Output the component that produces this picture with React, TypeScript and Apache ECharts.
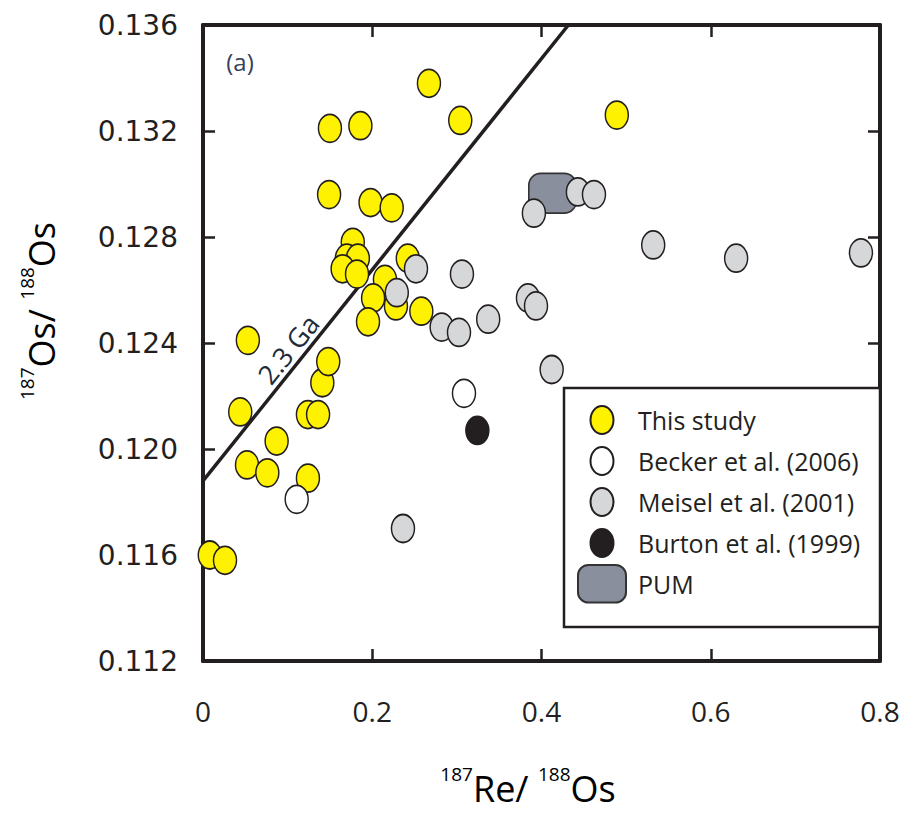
import React, { useEffect, useRef } from 'react';
import * as echarts from 'echarts';

// ---- data ----
const xTickLabels = ['0', '0.2', '0.4', '0.6', '0.8'];
const yTickLabels = ['0.112', '0.116', '0.120', '0.124', '0.128', '0.132', '0.136'];

const seriesNames = ['This study', 'Becker et al. (2006)', 'Meisel et al. (2001)', 'Burton et al. (1999)', 'PUM'];

const thisStudyX = [0.008, 0.026, 0.044, 0.053, 0.052, 0.076, 0.087, 0.124, 0.124, 0.136, 0.141, 0.148, 0.150, 0.149, 0.186, 0.267, 0.304, 0.489, 0.198, 0.223, 0.177, 0.170, 0.183, 0.165, 0.182, 0.242, 0.215, 0.201, 0.228, 0.195, 0.258];
const thisStudyY = [0.1160, 0.1158, 0.1214, 0.1241, 0.1194, 0.1191, 0.1203, 0.1189, 0.1213, 0.1213, 0.1225, 0.1233, 0.1321, 0.1296, 0.1322, 0.1338, 0.1324, 0.1326, 0.1293, 0.1291, 0.1278, 0.1272, 0.1272, 0.1268, 0.1266, 0.1272, 0.1264, 0.1257, 0.1254, 0.1248, 0.1252];

const beckerX = [0.3084, 0.1107];
const beckerY = [0.1221, 0.1181];

const meiselX = [0.2517, 0.229, 0.306, 0.282, 0.3025, 0.337, 0.384, 0.3935, 0.391, 0.443, 0.462, 0.412, 0.532, 0.630, 0.7775, 0.2363];
const meiselY = [0.1268, 0.1259, 0.1266, 0.1246, 0.1244, 0.1249, 0.1257, 0.1254, 0.1289, 0.1297, 0.1296, 0.1230, 0.1277, 0.1272, 0.1274, 0.1170];

const burtonX = [0.3242];
const burtonY = [0.1207];

// PUM box: [xMin, xMax, yMin, yMax]
const pumBox = [0.385, 0.441, 0.1289, 0.1304];

// 2.3 Ga reference isochron
const isochronX = [0, 0.4318];
const isochronY = [0.1188, 0.136];
const isochronLabel = '2.3 Ga';

// ---- styles ----
const INK = '#231f20';
const ELLIPSE = 'path://M0,14A11.5,14,0,1,1,23,14A11.5,14,0,1,1,0,14Z';
const LEG_ELLIPSE = 'path://M0,0M48,38M12.5,19A11.5,14,0,1,1,35.5,19A11.5,14,0,1,1,12.5,19Z';
const LEG_RRECT = 'path://M11,1H37A10,10,0,0,1,47,11V27A10,10,0,0,1,37,37H11A10,10,0,0,1,1,27V11A10,10,0,0,1,11,1Z';
const FONT = '"Open Sans", "Noto Sans", sans-serif';

const zip = (xs: number[], ys: number[]) => xs.map((x, i) => [x, ys[i]]);

const scatter = (name: string, xs: number[], ys: number[], color: string) => ({
  type: 'scatter',
  name,
  data: zip(xs, ys),
  symbol: ELLIPSE,
  symbolSize: [23, 28],
  itemStyle: { color, borderColor: INK, borderWidth: 1.6, opacity: 1 },
  emphasis: { disabled: true },
  z: 2,
});

const supRich = (base: number, sup: number) => ({
  base: { fontSize: base, fontFamily: FONT, color: INK, lineHeight: base + 6, verticalAlign: 'bottom' },
  sup: { fontSize: sup, fontFamily: FONT, color: INK, lineHeight: sup, verticalAlign: 'top' },
});

export default function App() {
  const ref = useRef<HTMLDivElement>(null);

  useEffect(() => {
    if (!ref.current) return;
    const chart = echarts.init(ref.current, null, { renderer: 'svg' });

    const frameAxis = {
      axisLine: { show: true, onZero: false, lineStyle: { color: INK, width: 4 } },
      axisTick: { show: true, inside: true, length: 12, lineStyle: { color: INK, width: 2.5 } },
      splitLine: { show: false },
    };

    chart.setOption({
      animation: false,
      grid: { left: 203, right: 24, top: 25, bottom: 154, containLabel: false },
      xAxis: [
        {
          type: 'value', min: 0, max: 0.8, interval: 0.2, position: 'bottom',
          ...frameAxis,
          axisLabel: {
            fontSize: 28, fontFamily: FONT, color: INK, margin: 36,
            formatter: (_v: number, i: number) => xTickLabels[i],
          },
        },
        {
          type: 'value', min: 0, max: 0.8, interval: 0.2, position: 'top',
          ...frameAxis, axisLabel: { show: false },
        },
      ],
      yAxis: [
        {
          type: 'value', min: 0.112, max: 0.136, interval: 0.004, position: 'left',
          ...frameAxis,
          axisLabel: {
            fontSize: 28, fontFamily: '"DejaVu Sans", sans-serif', color: INK, margin: 25,
            formatter: (_v: number, i: number) => yTickLabels[i],
          },
        },
        {
          type: 'value', min: 0.112, max: 0.136, interval: 0.004, position: 'right',
          ...frameAxis, axisLabel: { show: false },
        },
      ],
      legend: {
        orient: 'vertical',
        left: 577,
        top: 400,
        padding: 0,
        itemWidth: 48,
        itemHeight: 38,
        itemGap: 1,
        selectedMode: false,
        z: 5,
        textStyle: { fontSize: 25, fontFamily: FONT, color: INK, padding: [0, 0, 0, 7] },
        data: [
          { name: seriesNames[0], icon: LEG_ELLIPSE },
          { name: seriesNames[1], icon: LEG_ELLIPSE },
          { name: seriesNames[2], icon: LEG_ELLIPSE },
          { name: seriesNames[3], icon: LEG_ELLIPSE },
          { name: seriesNames[4], icon: LEG_RRECT },
        ],
      },
      graphic: [
        {
          type: 'rect', z: 3,
          shape: { x: 564, y: 388, width: 316, height: 239 },
          style: { fill: '#ffffff', stroke: INK, lineWidth: 2.5 },
        },
        {
          type: 'text', x: 240, y: 61,
          style: { text: '(a)', fontSize: 24, fontFamily: FONT, fill: '#34425a', align: 'center', verticalAlign: 'middle' },
        },
        {
          type: 'text', x: 288, y: 349, rotation: (51.3 * Math.PI) / 180, z: 2,
          style: { text: isochronLabel, fontSize: 27, fontFamily: FONT, fill: '#1f2b3c', align: 'center', verticalAlign: 'middle' },
        },
        {
          type: 'text', x: 38, y: 311, rotation: Math.PI / 2,
          style: {
            text: '{sup|187}{base|Os/ }{sup|188}{base|Os}',
            rich: supRich(36, 19),
            align: 'center', verticalAlign: 'middle',
          },
        },
        {
          type: 'text', x: 528, y: 785,
          style: {
            text: '{sup|187}{base|Re/ }{sup|188}{base|Os}',
            rich: supRich(36, 19),
            align: 'center', verticalAlign: 'middle',
          },
        },
      ],
      series: [
        {
          type: 'line',
          name: 'isochron',
          data: zip(isochronX, isochronY),
          symbol: 'none',
          lineStyle: { color: INK, width: 3.5 },
          silent: true,
          z: 1,
        },
        scatter(seriesNames[0], thisStudyX, thisStudyY, '#fff200'),
        {
          type: 'custom',
          name: seriesNames[4],
          data: [pumBox],
          itemStyle: { color: '#898f9c', borderColor: '#333333', borderWidth: 1.6 },
          z: 2,
          renderItem: (_p: any, api: any) => {
            const tl = api.coord([api.value(0), api.value(3)]);
            const br = api.coord([api.value(1), api.value(2)]);
            return {
              type: 'rect',
              shape: { x: tl[0], y: tl[1], width: br[0] - tl[0], height: br[1] - tl[1], r: 12 },
              style: { fill: '#898f9c', stroke: '#333333', lineWidth: 1.6 },
            };
          },
        },
        scatter(seriesNames[2], meiselX, meiselY, '#d6d7d9'),
        scatter(seriesNames[1], beckerX, beckerY, '#ffffff'),
        scatter(seriesNames[3], burtonX, burtonY, INK),
      ],
    });

    return () => chart.dispose();
  }, []);

  return (
    <div
      ref={ref}
      style={{ position: 'fixed', left: 0, top: 0, width: 904, height: 815, background: '#ffffff' }}
    />
  );
}
